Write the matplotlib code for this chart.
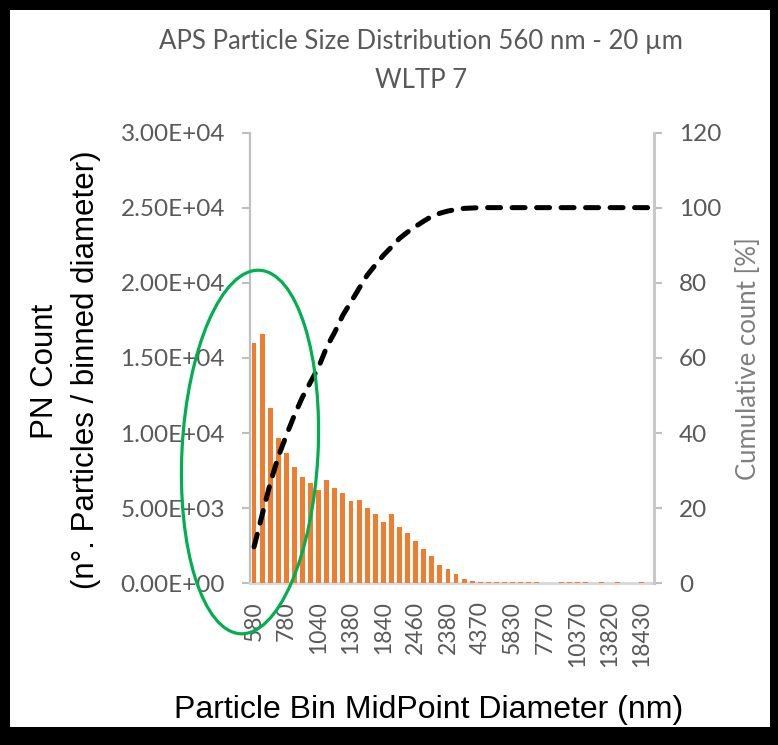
import matplotlib
matplotlib.use("Agg")
import matplotlib.pyplot as plt
from matplotlib.patches import Ellipse, Rectangle
from matplotlib.transforms import IdentityTransform
from matplotlib.ticker import FuncFormatter

# APS bin midpoints (nm), rounded as shown on the axis
bin_labels = ["580", "630", "670", "720", "780", "840", "900", "970", "1040", "1110",
              "1200", "1290", "1380", "1490", "1600", "1720", "1840", "1980", "2130", "2290",
              "2460", "2640", "2840", "3050", "2380", "3520", "3790", "4070", "4370", "4700",
              "5050", "5430", "5830", "6260", "6730", "7230", "7770", "8350", "8980", "9650",
              "10370", "11140", "11970", "12860", "13820", "14860", "15960", "17150", "18430", "19810"]

# PN count per bin
pn_count = [16000, 16600, 11650, 9650, 8650, 7760, 7100, 6680, 6180, 6900,
            6330, 6040, 5480, 5550, 4990, 4610, 4100, 4610, 3720, 3330,
            2840, 2300, 1820, 1200, 950, 640, 310, 150, 100, 80,
            80, 75, 75, 70, 70, 70, 0, 0, 70, 70,
            70, 65, 0, 65, 0, 65, 0, 0, 65, 0]

# cumulative count [%]
cumulative = [9.7, 18.2, 26.6, 33.7, 39.4, 44.8, 49.6, 53.6, 57.6, 62.9,
              66.9, 71.4, 74.9, 78.5, 82.0, 84.7, 87.3, 89.5, 91.8, 93.5,
              95.0, 96.4, 97.7, 98.5, 99.1, 99.5, 99.8, 99.9, 100.0, 100.0,
              100.0, 100.0, 100.0, 100.0, 100.0, 100.0, 100.0, 100.0, 100.0, 100.0,
              100.0, 100.0, 100.0, 100.0, 100.0, 100.0, 100.0, 100.0, 100.0, 100.0]

W, H = 778, 745
gray_txt = "#595959"
fig = plt.figure(figsize=(W / 100, H / 100), dpi=100, facecolor="black")
# white inner area inside black frame
fig.add_artist(Rectangle((10 / W, (H - 727) / H), 760 / W, 717 / H,
                         transform=fig.transFigure, facecolor="white",
                         edgecolor="none", zorder=-1))

ax = fig.add_axes([250 / W, (H - 583.3) / H, 404 / W, 450.8 / H])
ax.set_facecolor("none")
x = list(range(len(pn_count)))
ax.bar(x, pn_count, width=0.6, color="#ED7D31", zorder=3)
ax.set_xlim(-0.5, len(pn_count) - 0.5)
ax.set_ylim(0, 30000)
ax.set_yticks([0, 5000, 10000, 15000, 20000, 25000, 30000])
ax.yaxis.set_major_formatter(FuncFormatter(lambda v, p: f"{v:.2E}"))
ax.set_xticks(x[::4])
ax.set_xticklabels(bin_labels[::4], rotation=90, fontfamily="Lato",
                   fontsize=16.5, color=gray_txt)
for lab in ax.get_yticklabels():
    lab.set_fontfamily("Lato")
    lab.set_fontsize(17.5)
    lab.set_color(gray_txt)
ax.tick_params(axis="x", length=0, pad=13)
ax.tick_params(axis="y", length=6, width=1.5, color="#BFBFBF", pad=12)
for s in ["top", "right"]:
    ax.spines[s].set_visible(False)
ax.spines["left"].set_color("#BFBFBF")
ax.spines["left"].set_linewidth(1.6)
ax.spines["bottom"].set_color("#D9D9D9")
ax.spines["bottom"].set_linewidth(2.2)

ax2 = ax.twinx()
ax2.plot(x, cumulative, color="black", lw=3.6, linestyle=(0, (2.6, 2.3)),
         dash_capstyle="round", zorder=3)
ax2.set_ylim(0, 120)
ax2.set_yticks([0, 20, 40, 60, 80, 100, 120])
for lab in ax2.get_yticklabels():
    lab.set_fontfamily("Lato")
    lab.set_fontsize(17.5)
    lab.set_color(gray_txt)
ax2.tick_params(axis="y", length=6, width=1.5, color="#BFBFBF", pad=12)
for s in ["top", "left", "bottom"]:
    ax2.spines[s].set_visible(False)
ax2.spines["right"].set_color("#C8C8C8")
ax2.spines["right"].set_linewidth(2.2)

# titles and labels
fig.text(421 / W, (H - 42) / H, "APS Particle Size Distribution 560 nm - 20 µm",
         ha="center", va="center", fontfamily="Lato", fontsize=18.5, color=gray_txt)
fig.text(421 / W, (H - 80) / H, "WLTP 7", ha="center", va="center",
         fontfamily="Lato", fontsize=18.5, color=gray_txt)
fig.text(45 / W, (H - 371) / H, "PN Count", rotation=90, ha="center", va="center",
         fontfamily="Liberation Sans", fontsize=22.5, color="black")
fig.text(86 / W, (H - 370) / H, "(n°. Particles / binned diameter)", rotation=90,
         ha="center", va="center", fontfamily="Liberation Sans", fontsize=22.5,
         color="black")
fig.text(429 / W, (H - 710) / H, "Particle Bin MidPoint Diameter (nm)",
         ha="center", va="center", fontfamily="Liberation Sans", fontsize=23,
         color="black")
fig.text(748 / W, (H - 359) / H, "Cumulative count [%]", rotation=90,
         ha="center", va="center", fontfamily="Lato", fontsize=18.5, color="#7F7F7F")

# green highlight ellipse
fig.add_artist(Ellipse((250, H - 452), 136, 364, angle=-3, transform=IdentityTransform(),
                       fill=False, edgecolor="#00B050", lw=2.3, zorder=10))

fig.savefig("out.png", dpi=100, facecolor=fig.get_facecolor())
